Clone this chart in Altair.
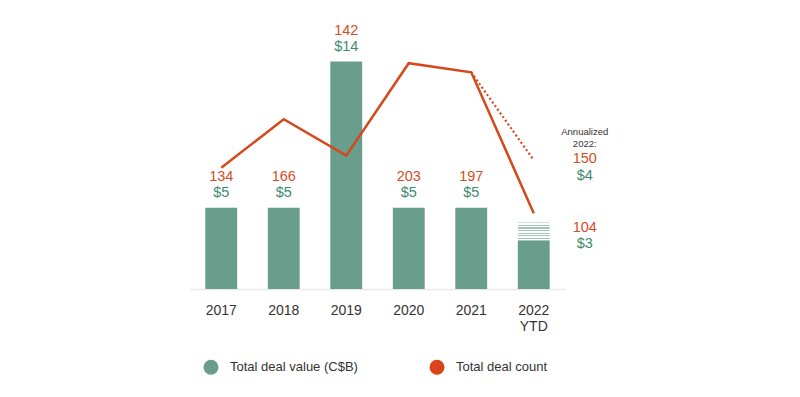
import altair as alt
import pandas as pd

# ---- data ----
years = ["2017", "2018", "2019", "2020", "2021", "2022 YTD"]
deal_value = [5, 5, 14, 5, 5, 3]            # C$B
deal_count = [134, 166, 142, 203, 197, 104]
value_labels = ["$5", "$5", "$14", "$5", "$5", "$3"]
annual_value = 4.1                           # hatched top (annualized 2022)
annual_value_label = "$4"
annual_count_label = "150"
annual_title = ["Annualized", "2022:"]
dotted_years = ["2021", "2022 YTD"]
dotted_count = [197, 139]                   # dotted projection as drawn

series_names = ["Total deal value (C$B)", "Total deal count"]

GREEN = "#6a9e8c"
ORANGE = "#d4491c"
GREEN_TXT = "#3d8a6e"
ORANGE_TXT = "#d34d25"
FONT = "Liberation Sans"

df = pd.DataFrame({
    "year": years,
    "value": deal_value,
    "count": deal_count,
    "vlabel": value_labels,
    "clabel": [str(c) for c in deal_count],
    "series": series_names[0],
})
main = df[df["year"] != years[-1]]
last = df[df["year"] == years[-1]].copy()
last["annual"] = annual_value
last["alabel"] = annual_value_label
last["aclabel"] = annual_count_label
last["t1"] = annual_title[0]
last["t2"] = annual_title[1]

dotted = pd.DataFrame({"year": dotted_years, "count": dotted_count})

BAR_DOMAIN = [0, 16]
LINE_DOMAIN = [53.9, 225.6]

x = alt.X(
    "year:N", sort=years,
    scale=alt.Scale(paddingInner=0.49, paddingOuter=0.245),
    axis=alt.Axis(title=None, labelAngle=0, ticks=False, domainColor="#e8e8e8",
                  domainWidth=1.5,
                  labelExpr="split(datum.label, ' ')", labelLineHeight=16,
                  labelPadding=14, labelFontSize=14, labelColor="#333333",
                  labelFont=FONT),
)


def ybar(field):
    return alt.Y(field, scale=alt.Scale(domain=BAR_DOMAIN, nice=False, zero=True), axis=None)


def yline(field):
    return alt.Y(field, scale=alt.Scale(domain=LINE_DOMAIN, nice=False, zero=False), axis=None)


bars = alt.Chart(df).mark_bar().encode(
    x=x,
    y=ybar("value:Q"),
    color=alt.Color(
        "series:N",
        scale=alt.Scale(domain=series_names, range=[GREEN, "#d9441a"]),
        legend=alt.Legend(
            title=None, orient="none", legendX=13, legendY=330,
            direction="horizontal", symbolType="circle", symbolSize=227,
            symbolStrokeWidth=0, symbolOpacity=1, labelFontSize=13,
            labelOffset=11, columnPadding=71, labelColor="#333333", labelFont=FONT,
        ),
    ),
)

# hatched (annualized) part, horizontal stripes via a gradient
stops = []
n = 7
for i in range(n):
    a = i / n
    b = (i + 0.4) / n
    c = (i + 1) / n
    stops += [
        alt.GradientStop(offset=a, color="#a3c5b9"),
        alt.GradientStop(offset=b, color="#a3c5b9"),
        alt.GradientStop(offset=b, color="#ffffff"),
        alt.GradientStop(offset=c, color="#ffffff"),
    ]
hatch_fill = alt.LinearGradient(gradient="linear", stops=stops, x1=0, x2=0, y1=0, y2=1)

hatch = alt.Chart(last).mark_bar(fill=hatch_fill).encode(
    x=x,
    y=ybar("annual:Q"),
    y2="value:Q",
)

line = alt.Chart(df).mark_line(color=ORANGE, strokeWidth=2.5).encode(
    x=x, y=yline("count:Q"),
)
dline = alt.Chart(dotted).mark_line(color=ORANGE, strokeWidth=2.2, strokeDash=[2, 2.5]).encode(
    x=x, y=yline("count:Q"),
)

txt = dict(font=FONT, fontSize=14.5, baseline="middle", align="center")

count_lbl = alt.Chart(main).mark_text(color=ORANGE_TXT, dy=-31, **txt).encode(
    x=x, y=ybar("value:Q"), text="clabel:N")
value_lbl = alt.Chart(main).mark_text(color=GREEN_TXT, dy=-15, **txt).encode(
    x=x, y=ybar("value:Q"), text="vlabel:N")

last_count = alt.Chart(last).mark_text(color=ORANGE_TXT, dx=51, dy=-12, **txt).encode(
    x=x, y=ybar("value:Q"), text="clabel:N")
last_value = alt.Chart(last).mark_text(color=GREEN_TXT, dx=51, dy=4, **txt).encode(
    x=x, y=ybar("value:Q"), text="vlabel:N")

ann_count = alt.Chart(last).mark_text(color=ORANGE_TXT, dx=51, dy=-63, **txt).encode(
    x=x, y=ybar("annual:Q"), text="aclabel:N")
ann_value = alt.Chart(last).mark_text(color=GREEN_TXT, dx=51, dy=-46, **txt).encode(
    x=x, y=ybar("annual:Q"), text="alabel:N")
small = dict(font=FONT, fontSize=9.5, baseline="middle", align="center", color="#333333")
ann_t1 = alt.Chart(last).mark_text(dx=51, dy=-90, **small).encode(
    x=x, y=ybar("annual:Q"), text="t1:N")
ann_t2 = alt.Chart(last).mark_text(dx=51, dy=-78, **small).encode(
    x=x, y=ybar("annual:Q"), text="t2:N")

chart = alt.layer(
    bars, hatch, line, dline, count_lbl, value_lbl, last_count, last_value,
    ann_count, ann_value, ann_t1, ann_t2,
).resolve_scale(y="independent").properties(
    width=375, height=260,
    autosize=alt.AutoSizeParams(type="none"),
    padding={"left": 182, "top": 21, "right": 220, "bottom": 90},
).configure(font=FONT, view=alt.ViewConfig(stroke=None))

chart.save("out.html", embed_options={"renderer": "svg", "actions": False})
